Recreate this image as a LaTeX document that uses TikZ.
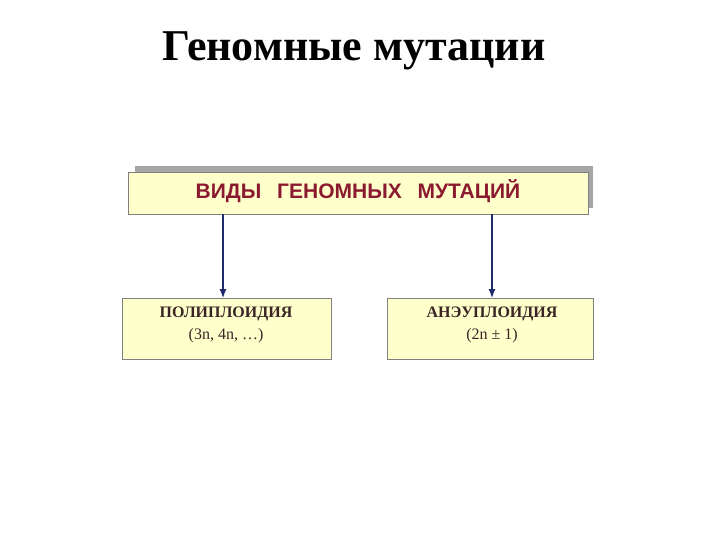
\documentclass[tikz,border=0pt]{standalone}
\usepackage{fontspec}
\setmainfont{Liberation Serif}
\newfontfamily\hsans{Liberation Sans}
\usetikzlibrary{arrows.meta}
\definecolor{boxfill}{HTML}{FFFFCC}
\definecolor{boxline}{HTML}{808080}
\definecolor{headred}{HTML}{8B1A30}
\definecolor{arrowblue}{HTML}{1F2A6B}
\definecolor{subtext}{HTML}{3A2424}
\tikzset{
  box/.style={draw=boxline, fill=boxfill, line width=0.8pt},
  conn/.style={draw=arrowblue, line width=1.2pt, -{Latex[length=9pt,width=7pt]}},
}
\begin{document}
\begin{tikzpicture}[x=1pt,y=-1pt]
\useasboundingbox[fill=white] (0,0) rectangle (720,540);
\node[font=\bfseries\fontsize{44}{50}\selectfont] (title) at (354,51) {Геномные мутации};
% shadow
\fill[gray!70] (135,166) rectangle (593,208);
\draw[box] (128,172) rectangle (588,214);
\node[font=\hsans\bfseries\fontsize{21}{24}\selectfont, text=headred] (head) at (358,191) {ВИДЫ\hspace{0.75em}ГЕНОМНЫХ\hspace{0.75em}МУТАЦИЙ};
\coordinate (hl) at (223,214);
\coordinate (hr) at (492,214);
\draw[box] (122,298) rectangle (331,359);
\draw[box] (387,298) rectangle (593,359);
\coordinate (bl) at (223,298);
\coordinate (br) at (492,298);
\node[font=\bfseries\fontsize{16}{19}\selectfont, text=subtext] (poly) at (226,314) {ПОЛИПЛОИДИЯ};
\node[font=\fontsize{16}{19}\selectfont, text=subtext] (poly2) at (226,336) {(3n, 4n, …)};
\node[font=\bfseries\fontsize{16}{19}\selectfont, text=subtext] (aneu) at (492,314) {АНЭУПЛОИДИЯ};
\node[font=\fontsize{16}{19}\selectfont, text=subtext] (aneu2) at (492,336) {(2n ± 1)};
\draw[conn] (hl) -- (bl);
\draw[conn] (hr) -- (br);
\end{tikzpicture}
\end{document}
